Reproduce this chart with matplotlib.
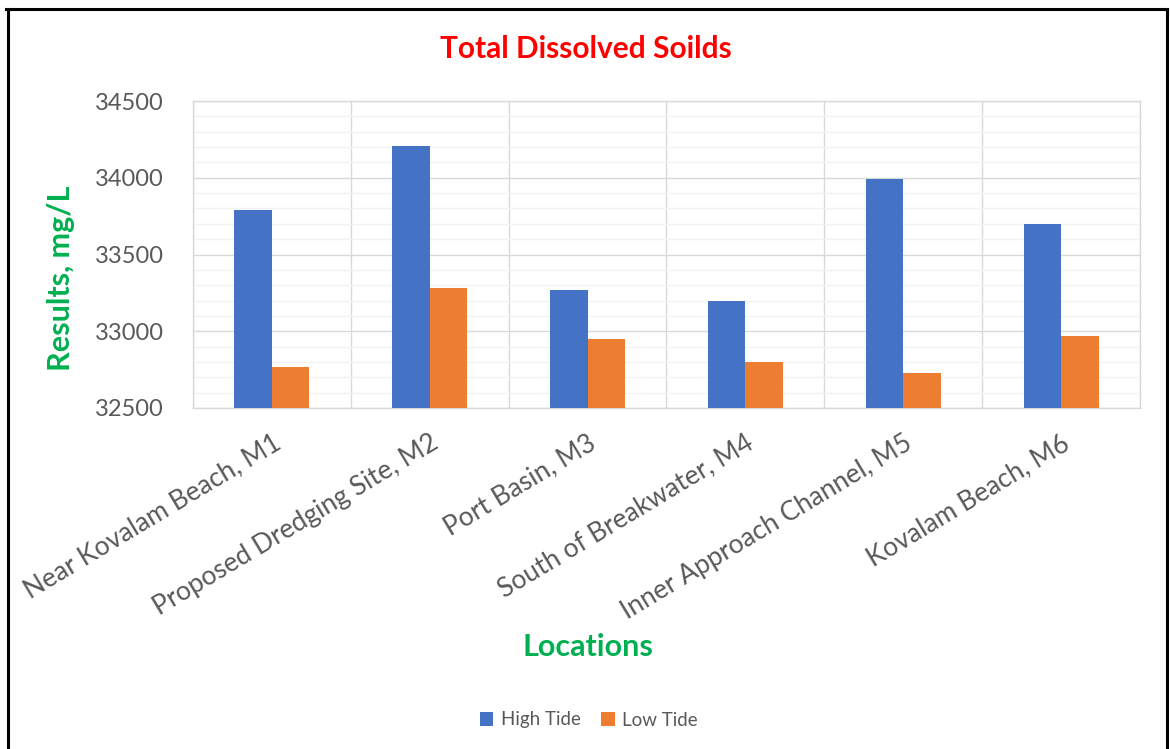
import matplotlib
matplotlib.use("Agg")
import matplotlib.pyplot as plt
import numpy as np
from matplotlib.lines import Line2D
from matplotlib.ticker import MultipleLocator

plt.rcParams['font.family'] = ['Lato', 'DejaVu Sans']

locations = ["Near Kovalam Beach, M1", "Proposed Dredging Site, M2", "Port Basin, M3",
             "South of Breakwater, M4", "Inner Approach Channel, M5", "Kovalam Beach, M6"]
high_tide = [33790, 34210, 33270, 33200, 33990, 33700]
low_tide = [32770, 33280, 32950, 32800, 32725, 32970]

W, H = 1170, 749
fig = plt.figure(figsize=(W / 100, H / 100), dpi=100)

ax = fig.add_axes([193 / W, 1 - 408 / H, (1140 - 193) / W, (408 - 101) / H])

x = np.arange(len(locations))
bw = 0.238
ax.bar(x - bw / 2, np.array(high_tide) - 32500, bw, bottom=32500, color='#4472C4', label='High Tide', zorder=3)
ax.bar(x + bw / 2, np.array(low_tide) - 32500, bw, bottom=32500, color='#ED7D31', label='Low Tide', zorder=3)

ax.set_ylim(32500, 34500)
ax.set_xlim(-0.5, len(locations) - 0.5)
ax.yaxis.set_major_locator(MultipleLocator(500))
ax.yaxis.set_minor_locator(MultipleLocator(100))
ax.grid(axis='y', which='major', color='#D9D9D9', lw=1.0, zorder=1)
ax.grid(axis='y', which='minor', color='#F2F2F2', lw=1.0, zorder=0)
for b in np.arange(-0.5, len(locations), 1.0):
    ax.axvline(b, color='#D9D9D9', lw=1.0, zorder=1)
for s in ax.spines.values():
    s.set_color('#D9D9D9')
    s.set_linewidth(1.0)

ax.tick_params(axis='both', which='both', length=0)
ax.tick_params(axis='y', labelsize=17, labelcolor='#595959', pad=21)
ax.set_xticks(x)
ax.set_xticklabels(locations, rotation=31, ha='right', rotation_mode='anchor',
                   fontsize=19, color='#595959')
ax.tick_params(axis='x', pad=16)

fig.text(61 / W, 1 - 278 / H, 'Results, mg/L', fontsize=22, fontweight='bold', color='#00B050',
         ha='center', va='center', rotation=90)
fig.text(588 / W, 1 - 647 / H, 'Locations', fontsize=22, fontweight='bold', color='#00B050',
         ha='center', va='center')
fig.text(586 / W, 1 - 49 / H, 'Total Dissolved Soilds', fontsize=21.5, fontweight='bold', color='#FF0000',
         ha='center', va='center')

fig.legend(loc='center', bbox_to_anchor=(589 / W, 1 - 720 / H), ncol=2, frameon=False,
           fontsize=13.5, labelcolor='#595959', handlelength=0.7, handleheight=0.7,
           handletextpad=0.4, columnspacing=1.1)

# outer frame
def fl(x0, y0, x1, y1, c, lw):
    fig.add_artist(Line2D([x0 / W, x1 / W], [1 - y0 / H, 1 - y1 / H], color=c, lw=lw,
                          transform=fig.transFigure))
fl(8, 9, 8, H + 5, 'black', 2.2)
fl(6, 9, 1167, 9, 'black', 2.2)
fl(1167, 9, 1167, H + 5, 'black', 2.2)

fig.savefig('out.png', dpi=100)
